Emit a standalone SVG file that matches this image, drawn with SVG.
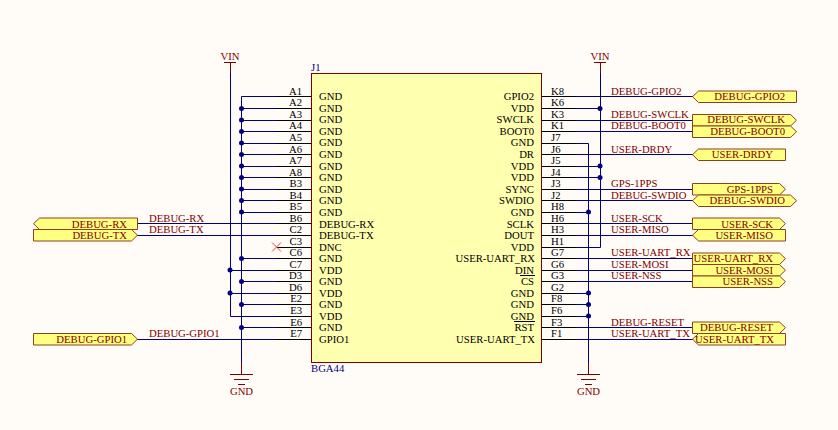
<svg xmlns="http://www.w3.org/2000/svg" width="838" height="430" viewBox="0 0 838 430">
<style>
text{font-family:"Liberation Serif","Times New Roman",serif;font-size:10.700px}
.w{stroke:#000080;stroke-width:1;fill:none}
.p{stroke:#000;stroke-width:1;fill:none}
.r{stroke:#800000;stroke-width:1;fill:none}
.d{fill:#000080}
.n{fill:#800000}
.k{fill:#000}
.e{text-anchor:end}
.port{fill:#FFFF80;stroke:#8C4020;stroke-width:1}
</style>
<rect width="838" height="430" fill="#FFFCF8"/>
<g id="connectors">
<path class="w" d="M230.500 69V316.500H277M241.500 96.500V363M241.500 96.500H277M241.500 108.500H277M241.500 120.500H277M241.500 131.500H277M241.500 143.500H277M241.500 154.500H277M241.500 166.500H277M241.500 177.500H277M241.500 189.500H277M241.500 200.500H277M241.500 212.500H277M241.500 258.500H277M241.500 281.500H277M241.500 304.500H277M241.500 327.500H277M230.500 270.500H277M230.500 293.500H277M137 223.500H277M137 235.500H277M137 339.500H277"/>
<path class="w" d="M600.500 69V247.500H576M588.500 143.500V363M576 143.500H588.500M576 212.500H588.500M576 293.500H588.500M576 304.500H588.500M576 316.500H588.500M576 108.500H600.500M576 166.500H600.500M576 177.500H600.500M576 96.500H693M576 120.500H693M576 131.500H693M576 154.500H693M576 189.500H693M576 200.500H693M576 223.500H693M576 235.500H693M576 258.500H693M576 270.500H693M576 281.500H693M576 327.500H693M576 339.500H693"/>
<g class="d"><circle cx="241.500" cy="108.500" r="2.500"/><circle cx="241.500" cy="120" r="2.500"/><circle cx="241.500" cy="131.500" r="2.500"/><circle cx="241.500" cy="143" r="2.500"/><circle cx="241.500" cy="154.500" r="2.500"/><circle cx="241.500" cy="166" r="2.500"/><circle cx="241.500" cy="177.500" r="2.500"/><circle cx="241.500" cy="189" r="2.500"/><circle cx="241.500" cy="200.500" r="2.500"/><circle cx="241.500" cy="212" r="2.500"/><circle cx="241.500" cy="258.500" r="2.500"/><circle cx="241.500" cy="281.500" r="2.500"/><circle cx="241.500" cy="304.500" r="2.500"/><circle cx="241.500" cy="327.500" r="2.500"/><circle cx="230" cy="270" r="2.500"/><circle cx="230" cy="293" r="2.500"/><circle cx="600" cy="108.500" r="2.500"/><circle cx="600" cy="166" r="2.500"/><circle cx="600" cy="177.500" r="2.500"/><circle cx="588.500" cy="212" r="2.500"/><circle cx="588.500" cy="293" r="2.500"/><circle cx="588.500" cy="304.500" r="2.500"/><circle cx="588.500" cy="316" r="2.500"/></g>
</g>
<g id="J1">
<rect x="311.500" y="73.500" width="230" height="289" fill="#FFFFB0" stroke="#800000"/>
<path class="p" d="M277 96.500H311M277 108.500H311M277 120.500H311M277 131.500H311M277 143.500H311M277 154.500H311M277 166.500H311M277 177.500H311M277 189.500H311M277 200.500H311M277 212.500H311M277 223.500H311M277 235.500H311M277 247.500H311M277 258.500H311M277 270.500H311M277 281.500H311M277 293.500H311M277 304.500H311M277 316.500H311M277 327.500H311M277 339.500H311"/>
<path class="p" d="M542 96.500H576M542 108.500H576M542 120.500H576M542 131.500H576M542 143.500H576M542 154.500H576M542 166.500H576M542 177.500H576M542 189.500H576M542 200.500H576M542 212.500H576M542 223.500H576M542 235.500H576M542 247.500H576M542 258.500H576M542 270.500H576M542 281.500H576M542 293.500H576M542 304.500H576M542 316.500H576M542 327.500H576M542 339.500H576"/>
<path d="M272 242.500L281 251.500M281 242.500L272 251.500" stroke="#F04040" fill="none"/>
<path class="p" d="M520 275.500H535M514 321.500H535"/>
<text x="311" y="71" fill="#000080">J1</text>
<text x="311" y="372" fill="#000080">BGA44</text>
<g class="k">
<text class="e" x="302" y="95">A1</text><text class="e" x="302" y="106">A2</text><text class="e" x="302" y="118">A3</text><text class="e" x="302" y="129">A4</text><text class="e" x="302" y="141">A5</text><text class="e" x="302" y="153">A6</text><text class="e" x="302" y="164">A7</text><text class="e" x="302" y="176">A8</text><text class="e" x="302" y="187">B3</text><text class="e" x="302" y="199">B4</text><text class="e" x="302" y="210">B5</text><text class="e" x="302" y="222">B6</text><text class="e" x="302" y="233">C2</text><text class="e" x="302" y="245">C3</text><text class="e" x="302" y="256">C6</text><text class="e" x="302" y="268">C7</text><text class="e" x="302" y="279">D3</text><text class="e" x="302" y="291">D6</text><text class="e" x="302" y="302">E2</text><text class="e" x="302" y="314">E3</text><text class="e" x="302" y="326">E6</text><text class="e" x="302" y="337">E7</text>
<text x="319" y="100">GND</text><text x="319" y="112">GND</text><text x="319" y="123">GND</text><text x="319" y="135">GND</text><text x="319" y="146">GND</text><text x="319" y="158">GND</text><text x="319" y="170">GND</text><text x="319" y="181">GND</text><text x="319" y="193">GND</text><text x="319" y="204">GND</text><text x="319" y="216">GND</text><text x="319" y="228">DEBUG-RX</text><text x="319" y="239">DEBUG-TX</text><text x="319" y="251">DNC</text><text x="319" y="262">GND</text><text x="319" y="274">VDD</text><text x="319" y="285">GND</text><text x="319" y="297">VDD</text><text x="319" y="308">GND</text><text x="319" y="320">VDD</text><text x="319" y="331">GND</text><text x="319" y="343">GPIO1</text>
<text x="551" y="95">K8</text><text x="551" y="106">K6</text><text x="551" y="118">K3</text><text x="551" y="129">K1</text><text x="551" y="141">J7</text><text x="551" y="153">J6</text><text x="551" y="164">J5</text><text x="551" y="176">J4</text><text x="551" y="187">J3</text><text x="551" y="199">J2</text><text x="551" y="210">H8</text><text x="551" y="222">H6</text><text x="551" y="233">H3</text><text x="551" y="245">H1</text><text x="551" y="256">G7</text><text x="551" y="268">G6</text><text x="551" y="279">G3</text><text x="551" y="291">G2</text><text x="551" y="302">F8</text><text x="551" y="314">F6</text><text x="551" y="326">F3</text><text x="551" y="337">F1</text>
<text class="e" x="534" y="100">GPIO2</text><text class="e" x="534" y="112">VDD</text><text class="e" x="534" y="123">SWCLK</text><text class="e" x="534" y="135">BOOT0</text><text class="e" x="534" y="146">GND</text><text class="e" x="534" y="158">DR</text><text class="e" x="534" y="170">VDD</text><text class="e" x="534" y="181">VDD</text><text class="e" x="534" y="193">SYNC</text><text class="e" x="534" y="204">SWDIO</text><text class="e" x="534" y="216">GND</text><text class="e" x="534" y="228">SCLK</text><text class="e" x="534" y="239">DOUT</text><text class="e" x="534" y="251">VDD</text><text class="e" x="535" y="262">USER-UART_RX</text><text class="e" x="534" y="274">DIN</text><text class="e" x="534" y="285">CS</text><text class="e" x="534" y="297">GND</text><text class="e" x="534" y="308">GND</text><text class="e" x="534" y="320">GND</text><text class="e" x="534" y="331">RST</text><text class="e" x="535" y="343">USER-UART_TX</text>
</g>
</g>
<g id="vin-left"><path class="r" d="M224 62.500H236M230.500 62.500V73"/><text class="n" x="230" y="60" text-anchor="middle">VIN</text></g>
<g id="vin-right"><path class="r" d="M594 62.500H606M600.500 62.500V73"/><text class="n" x="600" y="60" text-anchor="middle">VIN</text></g>
<g id="gnd-left"><path class="r" d="M241.500 363V374.500M230 374.500H253M234 379.500H249M238 384.500H245"/><text class="n" x="241.500" y="395" text-anchor="middle">GND</text></g>
<g id="gnd-right"><path class="r" d="M588.500 363V374.500M577 374.500H600M581 379.500H596M585 384.500H592"/><text class="n" x="588.500" y="395" text-anchor="middle">GND</text></g>
<g id="netlabels" class="n">
<text x="149" y="222">DEBUG-RX</text><text x="149" y="233">DEBUG-TX</text><text x="149" y="337">DEBUG-GPIO1</text>
<text x="611" y="95">DEBUG-GPIO2</text><text x="611" y="118">DEBUG-SWCLK</text><text x="611" y="129">DEBUG-BOOT0</text><text x="611" y="153">USER-DRDY</text><text x="611" y="187">GPS-1PPS</text><text x="611" y="199">DEBUG-SWDIO</text><text x="611" y="222">USER-SCK</text><text x="611" y="233">USER-MISO</text><text x="611" y="256">USER-UART_RX</text><text x="611" y="268">USER-MOSI</text><text x="611" y="279">USER-NSS</text><text x="611" y="326">DEBUG-RESET</text><text x="611" y="337">USER-UART_TX</text>
</g>
<g id="port-DEBUG-RX"><path class="port" d="M137.500 218V229.500H39.500L33.500 223.700L39.500 218Z"/><text class="n e" x="127" y="228">DEBUG-RX</text></g>
<g id="port-DEBUG-TX"><path class="port" d="M33.500 229.500V241H131.500L137.500 235.200L131.500 229.500Z"/><text class="n e" x="127" y="239">DEBUG-TX</text></g>
<g id="port-DEBUG-GPIO1"><path class="port" d="M33.500 333.500V345H131.500L137.500 339.200L131.500 333.500Z"/><text class="n e" x="127" y="343">DEBUG-GPIO1</text></g>
<g id="port-DEBUG-GPIO2"><path class="port" d="M796.500 91V102.500H698.500L692.500 96.700L698.500 91Z"/><text class="n e" x="785" y="100">DEBUG-GPIO2</text></g>
<g id="port-DEBUG-SWCLK"><path class="port" d="M692.500 114.500V126H790.500L796.500 120.200L790.500 114.500Z"/><text class="n e" x="785" y="123">DEBUG-SWCLK</text></g>
<g id="port-DEBUG-BOOT0"><path class="port" d="M692.500 126V137.500H790.500L796.500 131.700L790.500 126Z"/><text class="n e" x="785" y="135">DEBUG-BOOT0</text></g>
<g id="port-USER-DRDY"><path class="port" d="M785.500 149V160.500H698.500L692.500 154.700L698.500 149Z"/><text class="n e" x="773" y="158">USER-DRDY</text></g>
<g id="port-GPS-1PPS"><path class="port" d="M692.500 183.500V195H779.500L785.500 189.200L779.500 183.500Z"/><text class="n e" x="773" y="193">GPS-1PPS</text></g>
<g id="port-DEBUG-SWDIO"><path class="port" d="M698.500 195H790.500L796.500 200.700L790.500 206.500H698.500L692.500 200.700Z"/><text class="n e" x="785" y="204">DEBUG-SWDIO</text></g>
<g id="port-USER-SCK"><path class="port" d="M692.500 218V229.500H779.500L785.500 223.700L779.500 218Z"/><text class="n e" x="773" y="228">USER-SCK</text></g>
<g id="port-USER-MISO"><path class="port" d="M785.500 229.500V241H698.500L692.500 235.200L698.500 229.500Z"/><text class="n e" x="773" y="239">USER-MISO</text></g>
<g id="port-USER-UART_RX"><path class="port" d="M692.500 253V264.500H779.500L785.500 258.700L779.500 253Z"/><text class="n e" x="773" y="262">USER-UART_RX</text></g>
<g id="port-USER-MOSI"><path class="port" d="M692.500 264.500V276H779.500L785.500 270.200L779.500 264.500Z"/><text class="n e" x="773" y="274">USER-MOSI</text></g>
<g id="port-USER-NSS"><path class="port" d="M692.500 276V287.500H779.500L785.500 281.700L779.500 276Z"/><text class="n e" x="773" y="285">USER-NSS</text></g>
<g id="port-DEBUG-RESET"><path class="port" d="M692.500 322V333.500H779.500L785.500 327.700L779.500 322Z"/><text class="n e" x="773" y="331">DEBUG-RESET</text></g>
<g id="port-USER-UART_TX"><path class="port" d="M785.500 333.500V345H698.500L692.500 339.200L698.500 333.500Z"/><text class="n e" x="774" y="343">USER-UART_TX</text></g>
</svg>
